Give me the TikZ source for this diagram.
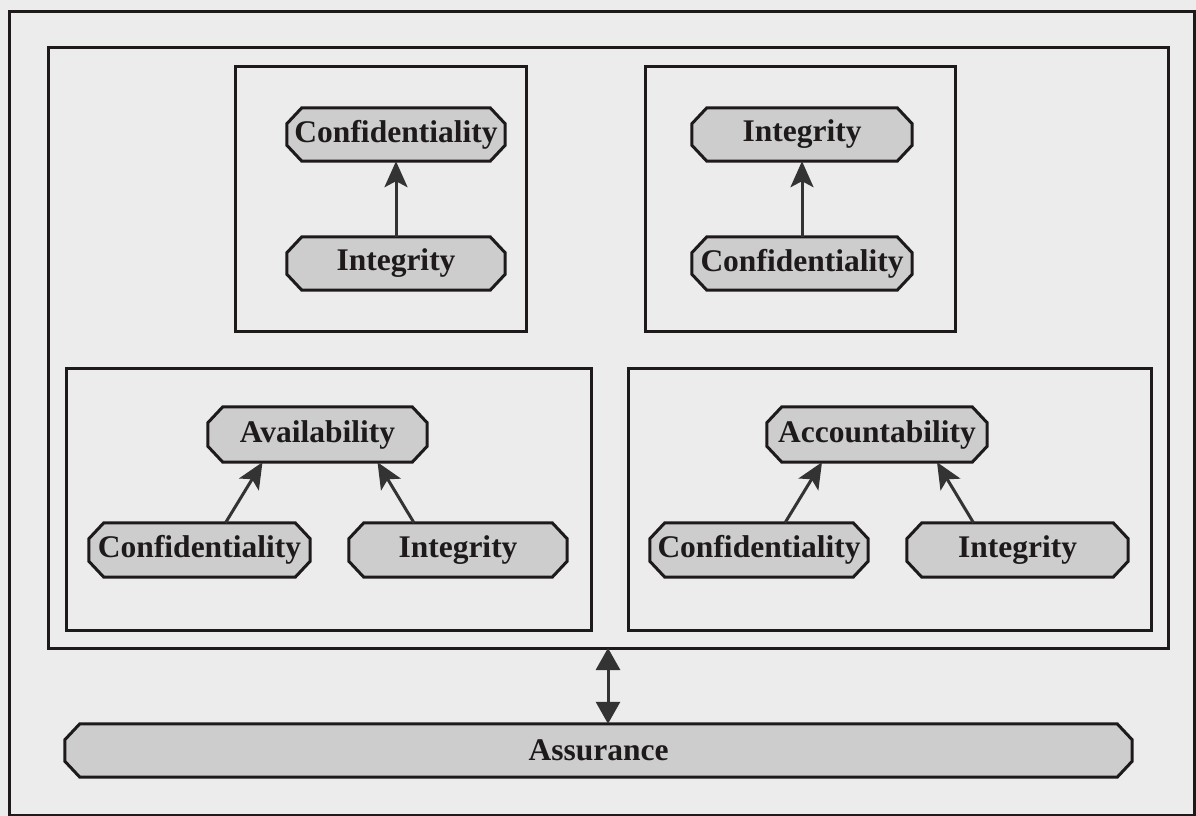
\documentclass[tikz,border=0pt]{standalone}
\usepackage{fontspec}
\setmainfont{Liberation Serif}
\usetikzlibrary{arrows.meta}
\pgfdeclarelayer{back}
\pgfdeclarelayer{shapes}
\pgfsetlayers{back,shapes,main}
\definecolor{bgc}{HTML}{ECECEC}
\definecolor{nodefill}{HTML}{CDCDCD}
\definecolor{ink}{HTML}{1E1A1A}
\definecolor{arrowc}{HTML}{333333}
\tikzset{
  frame/.style={draw=ink, line width=3pt},
  boxline/.style={draw=ink, line width=3pt},
  prop/.style={rectangle, draw=none, inner sep=0pt, minimum height=53pt,
    font=\fontsize{31.5}{36}\selectfont\bfseries, text=ink},
  propline/.style={draw=ink, line width=3pt, fill=nodefill, line join=miter},
  dep/.style={draw=arrowc, line width=3pt, -{Stealth[length=26pt,width=23pt,inset=6pt]}},
  dbl/.style={draw=arrowc, line width=3pt, {Triangle[length=22pt,width=24pt]}-{Triangle[length=22pt,width=24pt]}}
}
\begin{document}
\begin{tikzpicture}[x=1pt,y=-1pt]
\useasboundingbox (0,0) rectangle (1196,816);
\begin{pgfonlayer}{back}
\fill[bgc] (0,0) rectangle (1196,816);
% outer frame
\draw[frame] (9,12) rectangle (1194,815);
% inner big rectangle
\draw[boxline] (48,48) rectangle (1168,648);
% four boxes
\draw[boxline] (235,67) rectangle (526,331);
\draw[boxline] (645,67) rectangle (955,331);
\draw[boxline] (66,368) rectangle (591,630);
\draw[boxline] (628,368) rectangle (1151,630);
\end{pgfonlayer}
\coordinate (bigbot) at (608,648);
% top-left box
\node[prop, minimum width=218pt] (conf1) at (396,134.5) {Confidentiality};
\node[prop, minimum width=218pt] (int1) at (396,263.5) {Integrity};
% top-right box
\node[prop, minimum width=220pt] (int2) at (802,134.5) {Integrity};
\node[prop, minimum width=220pt] (conf2) at (802,263.5) {Confidentiality};
% bottom-left box
\node[prop, minimum width=219pt, minimum height=55pt] (avail) at (317.5,434.5) {Availability};
\node[prop, minimum width=221pt, minimum height=54pt] (conf3) at (199.5,550) {Confidentiality};
\node[prop, minimum width=218pt, minimum height=54pt] (int3) at (458,550) {Integrity};
% bottom-right box
\node[prop, minimum width=220pt, minimum height=55pt] (acc) at (877,434.5) {Accountability};
\node[prop, minimum width=218pt, minimum height=54pt] (conf4) at (759,550) {Confidentiality};
\node[prop, minimum width=221pt, minimum height=54pt] (int4) at (1017.5,550) {Integrity};
% assurance
\node[prop, minimum width=1067pt] (assur) at (598.5,750.5) {Assurance};
% chamfered outlines behind the texts
\begin{pgfonlayer}{shapes}
\foreach \n in {conf1,int1,int2,conf2,avail,conf3,int3,acc,conf4,int4,assur}{
  \filldraw[propline] ([xshift=15pt]\n.north west) -- ([xshift=-15pt]\n.north east)
    -- ([yshift=-16pt]\n.north east) -- ([yshift=16pt]\n.south east)
    -- ([xshift=-15pt]\n.south east) -- ([xshift=15pt]\n.south west)
    -- ([yshift=16pt]\n.south west) -- ([yshift=-16pt]\n.north west) -- cycle;
}
\end{pgfonlayer}
% connectors
\draw[dep] (int1) -- (conf1);
\draw[dep] (conf2) -- (int2);
\draw[dep] ([xshift=26pt]conf3.north) -- ([xshift=-55pt]avail.south);
\draw[dep] ([xshift=-44pt]int3.north) -- ([xshift=60pt]avail.south);
\draw[dep] ([xshift=26pt]conf4.north) -- ([xshift=-55pt]acc.south);
\draw[dep] ([xshift=-44pt]int4.north) -- ([xshift=60pt]acc.south);
\draw[dbl] (bigbot) -- (bigbot |- assur.north);
\end{tikzpicture}
\end{document}
